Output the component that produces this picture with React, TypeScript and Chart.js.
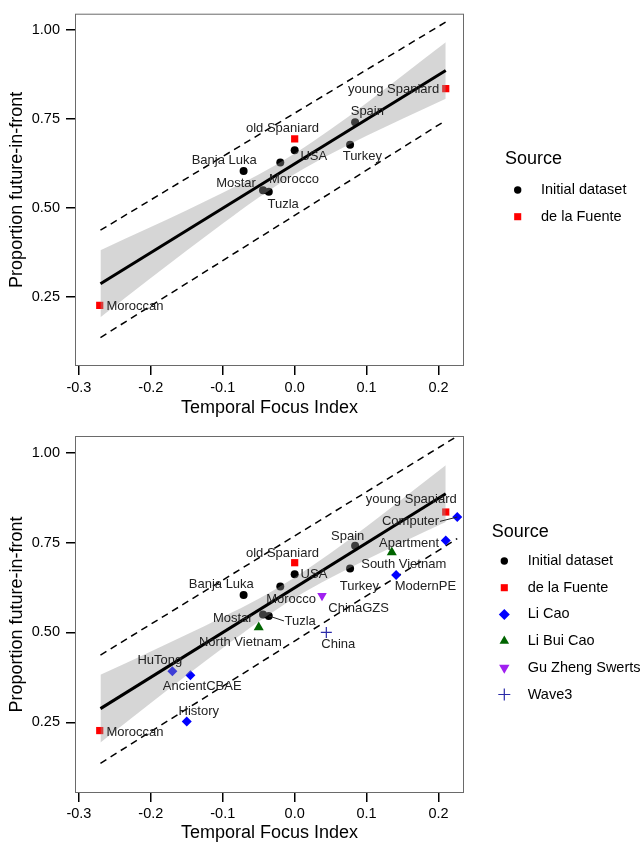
import React, { useEffect, useRef } from 'react';
import { Chart, registerables } from 'chart.js';

Chart.register(...registerables);

// ---------------- data ----------------
const xTickValues = [-0.3, -0.2, -0.1, 0.0, 0.1, 0.2];
const yTickValues = [0.25, 0.5, 0.75, 1.0];

const initialNames = ['Banja Luka', 'Mostar', 'Tuzla', 'Morocco', 'USA', 'Turkey', 'Spain'];
const initialX = [-0.071, -0.044, -0.036, -0.020, 0.000, 0.077, 0.084];
const initialY = [0.604, 0.550, 0.546, 0.628, 0.662, 0.678, 0.741];

const fuenteNames = ['Moroccan', 'old Spaniard', 'young Spaniard'];
const fuenteX = [-0.271, 0.000, 0.210];
const fuenteY = [0.227, 0.694, 0.835];

const liCaoNames = ['HuTong', 'AncientCBAE', 'History', 'ModernPE', 'Apartment', 'Computer'];
const liCaoX = [-0.170, -0.145, -0.150, 0.141, 0.210, 0.226];
const liCaoY = [0.392, 0.381, 0.252, 0.660, 0.756, 0.821];

const liBuiCaoNames = ['North Vietnam', 'South Vietnam'];
const liBuiCaoX = [-0.050, 0.135];
const liBuiCaoY = [0.514, 0.723];

const guNames = ['ChinaGZS'];
const guX = [0.038];
const guY = [0.602];

const wave3Names = ['China'];
const wave3X = [0.044];
const wave3Y = [0.500];

// regression fit line
const fitX = [-0.270, 0.210];
const fitY = [0.288, 0.886];

// confidence band
const bandX = [-0.27, -0.2, -0.15, -0.1, -0.05, 0, 0.05, 0.1, 0.15, 0.21];
const bandUpper = [0.382, 0.447, 0.494, 0.543, 0.594, 0.653, 0.721, 0.795, 0.872, 0.965];
const bandLower = [0.194, 0.304, 0.381, 0.457, 0.530, 0.596, 0.652, 0.703, 0.751, 0.807];

// prediction interval (dashed)
const predTopX = [-0.270, 0.210];
const predTopUpper = [0.438, 1.022];
const predTopLower = [0.137, 0.746];

const predBottomX = [-0.270, 0.226];
const predBottomUpper = [0.437, 1.046];
const predBottomLower = [0.136, 0.761];

// ---------------- styles / placement ----------------
const FONT = '"Liberation Sans", Arial, Helvetica, sans-serif';

type Src = {
  name: string; names: string[]; xs: number[]; ys: number[];
  shape: string; color: string; r: number; lr: number;
};

const SRC_INITIAL: Src = { name: 'Initial dataset', names: initialNames, xs: initialX, ys: initialY, shape: 'circle', color: '#000000', r: 4, lr: 3.7 };
const SRC_FUENTE: Src = { name: 'de la Fuente', names: fuenteNames, xs: fuenteX, ys: fuenteY, shape: 'rect', color: '#ff0000', r: 5.1, lr: 5 };
const SRC_LICAO: Src = { name: 'Li Cao', names: liCaoNames, xs: liCaoX, ys: liCaoY, shape: 'rectRot', color: '#0000ff', r: 5, lr: 5.5 };
const SRC_LIBUI: Src = { name: 'Li Bui Cao', names: liBuiCaoNames, xs: liBuiCaoX, ys: liBuiCaoY, shape: 'triangle', color: '#006400', r: 5.8, lr: 5.5 };
const SRC_GU: Src = { name: 'Gu Zheng Swerts', names: guNames, xs: guX, ys: guY, shape: 'triangleDown', color: '#a020f0', r: 5.5, lr: 6 };
const SRC_WAVE3: Src = { name: 'Wave3', names: wave3Names, xs: wave3X, ys: wave3Y, shape: 'cross', color: '#2a2aa8', r: 5.5, lr: 6 };

const labelPosTop: Record<string, [number, number]> = {
  'young Spaniard': [0.1375, 0.833],
  'Spain': [0.101, 0.770],
  'old Spaniard': [-0.017, 0.724],
  'USA': [0.0266, 0.644],
  'Turkey': [0.094, 0.644],
  'Banja Luka': [-0.098, 0.635],
  'Morocco': [-0.001, 0.581],
  'Mostar': [-0.0815, 0.569],
  'Tuzla': [-0.016, 0.510],
  'Moroccan': [-0.222, 0.225],
};

const labelPosBottom: Record<string, [number, number]> = {
  'young Spaniard': [0.162, 0.870],
  'Computer': [0.161, 0.810],
  'Spain': [0.0736, 0.7675],
  'Apartment': [0.159, 0.749],
  'old Spaniard': [-0.017, 0.721],
  'South Vietnam': [0.1516, 0.688],
  'USA': [0.0268, 0.662],
  'Banja Luka': [-0.102, 0.634],
  'Turkey': [0.090, 0.627],
  'ModernPE': [0.1817, 0.629],
  'Morocco': [-0.0049, 0.5925],
  'ChinaGZS': [0.0889, 0.5656],
  'Mostar': [-0.086, 0.538],
  'Tuzla': [0.0076, 0.532],
  'North Vietnam': [-0.0755, 0.471],
  'China': [0.0606, 0.4675],
  'HuTong': [-0.1875, 0.421],
  'AncientCBAE': [-0.1285, 0.351],
  'History': [-0.1333, 0.281],
  'Moroccan': [-0.222, 0.223],
};

// leader segments [x1, y1, x2, y2] in data units
const segmentsBottom: number[][] = [
  [0.202, 0.809, 0.226, 0.821],
  [-0.036, 0.546, -0.0149, 0.532],
];

type PanelDef = {
  canvasH: number;
  area: { left: number; right: number; top: number; bottom: number };
  xMin: number; xMax: number; yMin: number; yMax: number;
  xTickPad: number; xTitlePadBottom: number;
  sources: Src[];
  predX: number[]; predUpper: number[]; predLower: number[];
  labelPos: Record<string, [number, number]>;
  segments: number[][];
  legend: { titleX: number; titleY: number; markerX: number; textX: number; itemY: number; step: number };
};

const TOP: PanelDef = {
  canvasH: 420,
  area: { left: 76, right: 463, top: 12, bottom: 365 },
  xMin: -0.3040, xMax: 0.2340, yMin: 0.0599, yMax: 1.0426,
  xTickPad: 4.5, xTitlePadBottom: 2.7,
  sources: [SRC_INITIAL, SRC_FUENTE],
  predX: predTopX, predUpper: predTopUpper, predLower: predTopLower,
  labelPos: labelPosTop,
  segments: [],
  legend: { titleX: 505, titleY: 159.3, markerX: 517.7, textX: 541, itemY: 190, step: 26.7 },
};

const BOTTOM: PanelDef = {
  canvasH: 423,
  area: { left: 76, right: 463, top: 17, bottom: 372 },
  xMin: -0.3040, xMax: 0.2340, yMin: 0.0561, yMax: 1.0437,
  xTickPad: 3, xTitlePadBottom: 0.7,
  sources: [SRC_INITIAL, SRC_FUENTE, SRC_LICAO, SRC_LIBUI, SRC_GU, SRC_WAVE3],
  predX: predBottomX, predUpper: predBottomUpper, predLower: predBottomLower,
  labelPos: labelPosBottom,
  segments: segmentsBottom,
  legend: { titleX: 491.7, titleY: 111.7, markerX: 504.3, textX: 527.7, itemY: 141, step: 26.7 },
};

// ---------------- helpers ----------------
const xy = (xs: number[], ys: number[]) => xs.map((x, i) => ({ x, y: ys[i] }));

function drawMarker(ctx: CanvasRenderingContext2D, shape: string, x: number, y: number, r: number, color: string) {
  ctx.save();
  ctx.fillStyle = color;
  ctx.strokeStyle = color;
  ctx.beginPath();
  if (shape === 'circle') {
    ctx.arc(x, y, r, 0, Math.PI * 2);
    ctx.fill();
  } else if (shape === 'rect') {
    const s = r * Math.SQRT1_2;
    ctx.rect(x - s, y - s, 2 * s, 2 * s);
    ctx.fill();
  } else if (shape === 'rectRot') {
    ctx.moveTo(x, y - r); ctx.lineTo(x + r, y); ctx.lineTo(x, y + r); ctx.lineTo(x - r, y); ctx.closePath();
    ctx.fill();
  } else if (shape === 'triangle' || shape === 'triangleDown') {
    const d = shape === 'triangle' ? 1 : -1;
    const w = r * Math.sqrt(3) / 2;
    ctx.moveTo(x, y - d * r); ctx.lineTo(x + w, y + d * r / 2); ctx.lineTo(x - w, y + d * r / 2); ctx.closePath();
    ctx.fill();
  } else if (shape === 'cross') {
    ctx.lineWidth = 1.2;
    ctx.moveTo(x - r, y); ctx.lineTo(x + r, y);
    ctx.moveTo(x, y - r); ctx.lineTo(x, y + r);
    ctx.stroke();
  }
  ctx.restore();
}

function buildConfig(def: PanelDef): any {
  const datasets: any[] = [];
  datasets.push({
    type: 'line', label: 'fit', data: xy(fitX, fitY),
    borderColor: '#000000', borderWidth: 3, pointRadius: 0, fill: false, order: 0,
  });
  datasets.push({
    type: 'line', label: 'bandUpper', data: xy(bandX, bandUpper),
    borderColor: 'rgba(0,0,0,0)', borderWidth: 0, pointRadius: 0,
    fill: '+1', backgroundColor: 'rgba(153,153,153,0.4)', cubicInterpolationMode: 'monotone', order: 1,
  });
  datasets.push({
    type: 'line', label: 'bandLower', data: xy(bandX, bandLower),
    borderColor: 'rgba(0,0,0,0)', borderWidth: 0, pointRadius: 0,
    fill: false, cubicInterpolationMode: 'monotone', order: 1,
  });
  def.sources.forEach((s) => {
    const isCross = s.shape === 'cross';
    const style = s.shape === 'triangleDown' ? 'triangle' : s.shape;
    datasets.push({
      type: 'line', label: s.name, data: xy(s.xs, s.ys), showLine: false,
      pointStyle: style, pointRadius: s.r, pointHoverRadius: s.r,
      pointRotation: s.shape === 'triangleDown' ? 180 : 0,
      pointBackgroundColor: isCross ? 'rgba(0,0,0,0)' : s.color,
      pointBorderColor: s.color, pointBorderWidth: isCross ? 1.2 : 0,
      borderColor: s.color, backgroundColor: s.color, order: 2,
    });
  });
  [def.predUpper, def.predLower].forEach((ys, i) => {
    datasets.push({
      type: 'line', label: i === 0 ? 'predUpper' : 'predLower', data: xy(def.predX, ys),
      borderColor: '#000000', borderWidth: 1.5, borderDash: [7, 5], pointRadius: 0, fill: false, order: 3,
    });
  });

  const framePlugin = {
    id: 'frame',
    afterDatasetsDraw(chart: any) {
      const { ctx, chartArea: a } = chart;
      ctx.save();
      ctx.strokeStyle = '#6a6a6a';
      ctx.lineWidth = 1;
      ctx.strokeRect(a.left - 0.5, a.top - 0.5, a.right - a.left + 1, a.bottom - a.top + 1);
      ctx.restore();
    },
  };

  const labelPlugin = {
    id: 'pointLabels',
    afterDatasetsDraw(chart: any) {
      const { ctx } = chart;
      const xs = chart.scales.x, ys = chart.scales.y;
      ctx.save();
      ctx.strokeStyle = '#222222';
      ctx.lineWidth = 1;
      def.segments.forEach((s) => {
        ctx.beginPath();
        ctx.moveTo(xs.getPixelForValue(s[0]), ys.getPixelForValue(s[1]));
        ctx.lineTo(xs.getPixelForValue(s[2]), ys.getPixelForValue(s[3]));
        ctx.stroke();
      });
      ctx.font = `13px ${FONT}`;
      ctx.fillStyle = '#222222';
      ctx.textAlign = 'center';
      ctx.textBaseline = 'middle';
      def.sources.forEach((s) => {
        s.names.forEach((n) => {
          const p = def.labelPos[n];
          if (!p) return;
          ctx.fillText(n, xs.getPixelForValue(p[0]), ys.getPixelForValue(p[1]));
        });
      });
      ctx.restore();
    },
  };

  const legendPlugin = {
    id: 'sourceLegend',
    afterDraw(chart: any) {
      const { ctx } = chart;
      const L = def.legend;
      ctx.save();
      ctx.fillStyle = '#000000';
      ctx.textAlign = 'left';
      ctx.textBaseline = 'middle';
      ctx.font = `18px ${FONT}`;
      ctx.fillText('Source', L.titleX, L.titleY);
      ctx.font = `14.5px ${FONT}`;
      def.sources.forEach((s, i) => {
        const y = L.itemY + i * L.step;
        drawMarker(ctx, s.shape, L.markerX, y, s.lr, s.color);
        ctx.fillStyle = '#000000';
        ctx.fillText(s.name, L.textX, y);
      });
      ctx.restore();
    },
  };

  const a = def.area;
  return {
    type: 'line',
    data: { datasets },
    options: {
      responsive: false,
      animation: false,
      events: [],
      layout: { padding: { left: 0, top: a.top, right: 644 - a.right, bottom: 0 } },
      plugins: { legend: { display: false }, tooltip: { enabled: false } },
      scales: {
        x: {
          type: 'linear',
          min: def.xMin, max: def.xMax,
          afterFit: (s: any) => { s.height = def.canvasH - a.bottom; },
          afterBuildTicks: (s: any) => { s.ticks = xTickValues.map((value) => ({ value })); },
          ticks: {
            padding: def.xTickPad, color: '#000000', maxRotation: 0, autoSkip: false,
            font: { family: FONT, size: 14.5 },
            callback: (v: any) => Number(v).toFixed(1),
          },
          grid: { drawOnChartArea: false, drawTicks: true, tickLength: 10, color: '#000000', lineWidth: 1.5 },
          border: { display: false },
          title: {
            display: true, text: 'Temporal Focus Index', color: '#000000',
            font: { family: FONT, size: 18, lineHeight: 1 },
            padding: { top: 0, bottom: def.xTitlePadBottom },
          },
        },
        y: {
          type: 'linear',
          min: def.yMin, max: def.yMax,
          afterFit: (s: any) => { s.width = a.left; },
          afterBuildTicks: (s: any) => { s.ticks = yTickValues.map((value) => ({ value })); },
          ticks: {
            padding: 6, color: '#000000', autoSkip: false,
            font: { family: FONT, size: 14.5 },
            callback: (v: any) => Number(v).toFixed(2),
          },
          grid: { drawOnChartArea: false, drawTicks: true, tickLength: 10, color: '#000000', lineWidth: 1.5 },
          border: { display: false },
          title: {
            display: true, text: 'Proportion future-in-front', color: '#000000',
            font: { family: FONT, size: 18, lineHeight: 1 },
            padding: { top: 8.5, bottom: 0 },
          },
        },
      },
    },
    plugins: [framePlugin, labelPlugin, legendPlugin],
  };
}

function Panel({ def }: { def: PanelDef }) {
  const ref = useRef<HTMLCanvasElement>(null);
  useEffect(() => {
    const chart = new Chart(ref.current as HTMLCanvasElement, buildConfig(def));
    return () => chart.destroy();
  }, [def]);
  return (
    <canvas
      ref={ref}
      width={644}
      height={def.canvasH}
      style={{ display: 'block', width: 644, height: def.canvasH }}
    />
  );
}

export default function App() {
  return (
    <div style={{ position: 'fixed', left: 0, top: 0, width: 644, height: 843, background: '#ffffff', overflow: 'hidden' }}>
      <Panel def={TOP} />
      <Panel def={BOTTOM} />
    </div>
  );
}
